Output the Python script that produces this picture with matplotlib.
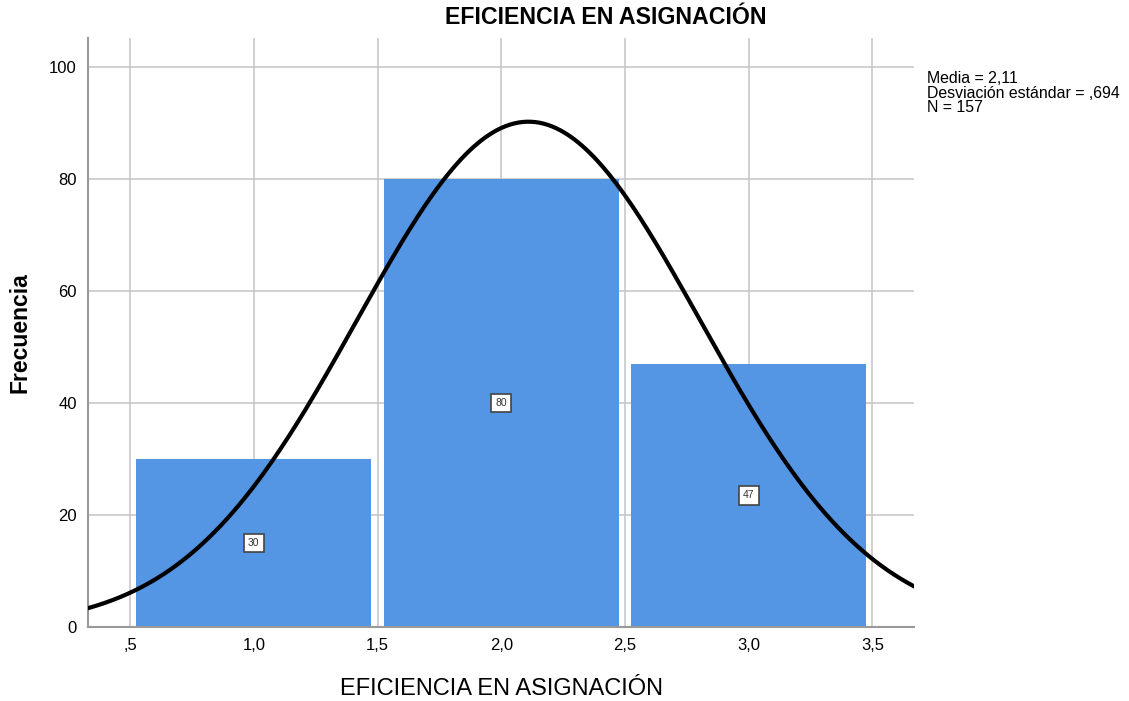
import numpy as np
import matplotlib
matplotlib.use("Agg")
from matplotlib import pyplot as plt

# datos del histograma
centros = [1.0, 2.0, 3.0]
frecuencias = [30, 80, 47]
media = 2.11
desv = 0.694
n_total = 157
xticks = [0.5, 1.0, 1.5, 2.0, 2.5, 3.0, 3.5]
xtick_labels = [",5", "1,0", "1,5", "2,0", "2,5", "3,0", "3,5"]
yticks = [0, 20, 40, 60, 80, 100]

plt.rcParams['font.family'] = ['Liberation Sans', 'DejaVu Sans']

fig = plt.figure(figsize=(11.29, 7.01), dpi=100)
ax = fig.add_axes([0.078, 0.1056, 0.732, 0.8402])

ax.set_axisbelow(True)
ax.grid(True, color="#c8c8c8", linewidth=1.2)
ax.bar(centros, frecuencias, width=0.95, color="#5495e4", zorder=2)

# curva normal ajustada
xs = np.linspace(0.33, 3.67, 400)
ys = n_total * 1.0 / (desv * np.sqrt(2 * np.pi)) * np.exp(-0.5 * ((xs - media) / desv) ** 2)
ax.plot(xs, ys, color="black", linewidth=3, zorder=4)

for c, f in zip(centros, frecuencias):
    ax.text(c, f / 2, str(f), ha="center", va="center", fontsize=7.5, color="#333333", zorder=5,
            bbox=dict(boxstyle="square,pad=0.42", facecolor="white", edgecolor="#444444", linewidth=1.2))

ax.set_xlim(0.33, 3.67)
ax.set_ylim(0, 105.2)
ax.set_xticks(xticks)
ax.set_xticklabels(xtick_labels, fontsize=12)
ax.set_yticks(yticks)
ax.set_yticklabels([str(t) for t in yticks], fontsize=12)
ax.tick_params(length=0, pad=8)
for s in ["top", "right"]:
    ax.spines[s].set_visible(False)
for s in ["left", "bottom"]:
    ax.spines[s].set_color("#999999")
    ax.spines[s].set_linewidth(1.5)

ax.set_xlabel("EFICIENCIA EN ASIGNACIÓN", fontsize=17, labelpad=18)
fig.text(20 / 1129, 1 - 333 / 701, "Frecuencia", rotation=90, ha="center", va="center",
         fontsize=16.5, fontweight="bold")
fig.text(606 / 1129, 1 - 18 / 701, "EFICIENCIA EN ASIGNACIÓN", ha="center", va="center",
         fontsize=16.7, fontweight="bold")

fig.text(0.821, 1 - 93 / 701, "Media = 2,11\nDesviación estándar = ,694\nN = 157",
         ha="left", va="center", fontsize=11.4, linespacing=0.95)

plt.savefig("out.png", dpi=100)
